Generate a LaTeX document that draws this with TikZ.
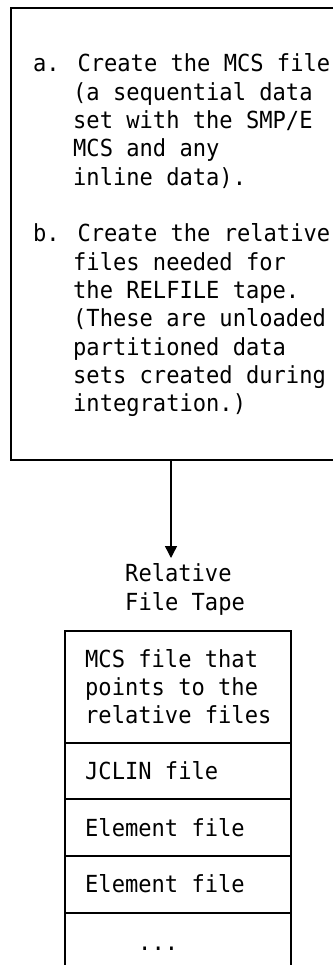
\documentclass[tikz,border=0pt]{standalone}
\usepackage{fontspec}
\newfontfamily\dmono[FakeStretch=0.94]{DejaVu Sans Mono}
\usetikzlibrary{arrows.meta}
\tikzset{
  txt/.style={anchor=base west, inner sep=0pt, font=\dmono\fontsize{23.5}{28.3}\selectfont},
  frame/.style={line width=1.4pt, line cap=butt, line join=miter},
  flow/.style={line width=1.4pt, -{Triangle[length=12pt,width=12pt]}}
}
\begin{document}
\begin{tikzpicture}[x=1pt,y=-1pt]
\useasboundingbox (0,0) rectangle (333,965);
% top box (open on the right)
\draw[frame] (333,8) -- (11,8) -- (11,460) -- (333,460);
\node[txt] (a0)  at (33,72)    {a. Create the MCS file};
\node[txt] (a1)  at (73,100.3) {(a sequential data};
\node[txt] (a2)  at (73,128.6) {set with the SMP/E};
\node[txt] (a3)  at (73,156.9) {MCS and any};
\node[txt] (a4)  at (73,185.2) {inline data).};
\node[txt] (b0)  at (33,241.8) {b. Create the relative};
\node[txt] (b1)  at (73,270.1) {files needed for};
\node[txt] (b2)  at (73,298.4) {the RELFILE tape.};
\node[txt] (b3)  at (73,326.7) {(These are unloaded};
\node[txt] (b4)  at (73,355.0) {partitioned data};
\node[txt] (b5)  at (73,383.3) {sets created during};
\node[txt] (b6)  at (73,411.6) {integration.)};
% arrow
\coordinate (boxbottom) at (171,460);
\coordinate (tip) at (171,558);
\draw[flow] (boxbottom) -- (tip);
% label
\node[txt] (rel1) at (125,581.7) {Relative};
\node[txt] (rel2) at (125,610.7) {File Tape};
% lower stack (open at the bottom)
\draw[frame] (65,965) -- (65,631) -- (291,631) -- (291,965);
\draw[frame] (65,743) -- (291,743);
\draw[frame] (65,799) -- (291,799);
\draw[frame] (65,856) -- (291,856);
\draw[frame] (65,913) -- (291,913);
\node[txt] (m1) at (85,667)   {MCS file that};
\node[txt] (m2) at (85,695)   {points to the};
\node[txt] (m3) at (85,723)   {relative files};
\node[txt] (j1) at (85,779.5) {JCLIN file};
\node[txt] (e1) at (85,836)   {Element file};
\node[txt] (e2) at (85,892.5) {Element file};
\node[txt] (d1) at (138,950)  {...};
\end{tikzpicture}
\end{document}
